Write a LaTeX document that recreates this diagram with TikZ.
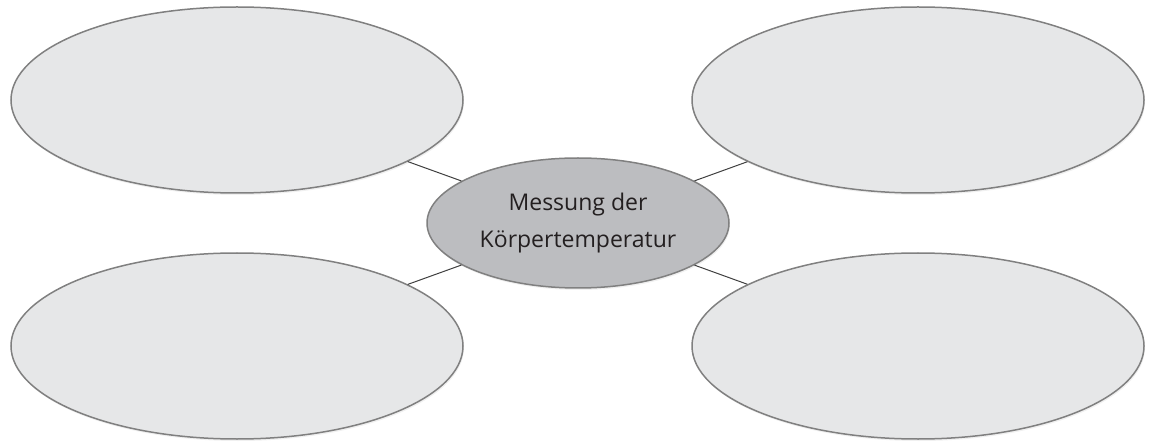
\documentclass[tikz,border=0pt]{standalone}
\usepackage{fontspec}
\setmainfont{Open Sans}
\usepackage{xcolor}
\usepackage{tikz}
\usetikzlibrary{shapes.geometric,shadows}

\definecolor{leaffill}{HTML}{E6E7E8}
\definecolor{hubfill}{HTML}{BCBDC0}
\definecolor{rimgray}{HTML}{808080}
\definecolor{linkgray}{HTML}{3F3F3F}
\definecolor{textdark}{HTML}{231F20}

\begin{document}
\begin{tikzpicture}[
  x=1pt, y=-1pt,
  every node/.style={ellipse, draw=rimgray, line width=1.5pt, inner sep=0pt,
    drop shadow={opacity=0.12, shadow xshift=1pt, shadow yshift=-2pt}},
  leaf/.style={fill=leaffill, minimum width=452pt, minimum height=186pt},
  hub/.style={fill=hubfill, minimum width=302pt, minimum height=130pt,
    align=center, text=textdark, font=\fontsize{23}{37}\selectfont},
  link/.style={draw=linkgray, line width=1pt}
]
\useasboundingbox (0,0) rectangle (1155,443);
\node[leaf] (topleft) at (237,100) {};
\node[leaf] (topright) at (918,100) {};
\node[leaf] (bottomleft) at (237,346) {};
\node[leaf] (bottomright) at (918,346) {};
\node[hub] (hub) at (578,223) {Messung der\\Körpertemperatur};
\draw[link] (hub) -- (topleft);
\draw[link] (hub) -- (topright);
\draw[link] (hub) -- (bottomleft);
\draw[link] (hub) -- (bottomright);
\end{tikzpicture}
\end{document}
